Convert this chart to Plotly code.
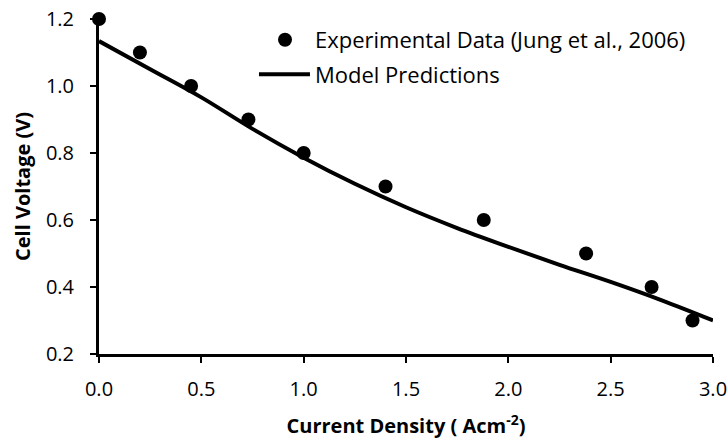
import plotly.graph_objects as go

# Experimental data (Jung et al., 2006)
exp_current = [0.0, 0.2, 0.45, 0.73, 1.0, 1.4, 1.88, 2.38, 2.7, 2.9]
exp_voltage = [1.2, 1.1, 1.0, 0.9, 0.8, 0.7, 0.6, 0.5, 0.4, 0.3]

# Model predictions
model_current = [0.0, 0.25, 0.5, 0.75, 1.0, 1.25, 1.5, 1.75, 2.0, 2.25, 2.5, 2.75, 3.0]
model_voltage = [1.134, 1.05, 0.966, 0.872, 0.786, 0.708, 0.638, 0.576, 0.52, 0.466, 0.415, 0.36, 0.30]

x_ticks = [0.0, 0.5, 1.0, 1.5, 2.0, 2.5, 3.0]
y_ticks = [0.2, 0.4, 0.6, 0.8, 1.0, 1.2]

FONT = "Open Sans"
FS = 20
LFS = 22

fig = go.Figure()
fig.add_trace(go.Scatter(
    x=exp_current, y=exp_voltage, mode="markers",
    name="Experimental Data (Jung et al., 2006)",
    marker=dict(color="black", size=14),
    legend="legend", showlegend=True, cliponaxis=False,
))
fig.add_trace(go.Scatter(
    x=model_current, y=model_voltage, mode="lines",
    name="Model Predictions",
    line=dict(color="black", width=4, shape="spline"),
    legend="legend2", showlegend=True, cliponaxis=False,
))

axis_common = dict(
    showline=True, linecolor="black", linewidth=3,
    ticks="outside", ticklen=6, tickwidth=2, tickcolor="black",
    showgrid=False, zeroline=False, automargin=False,
    tickfont=dict(family=FONT, size=FS, color="black"),
)

fig.update_layout(
    width=728, height=439,
    margin=dict(l=99, r=15, t=19, b=85),
    paper_bgcolor="white", plot_bgcolor="white",
    font=dict(family=FONT, color="black"),
    showlegend=True,
    xaxis=dict(
        range=[0, 3.0], tickvals=x_ticks, ticktext=[f"{v:.1f}" for v in x_ticks],
        title=dict(text="<b>Current Density ( Acm<sup>-2</sup>)</b>",
                   font=dict(family=FONT, size=FS), standoff=22),
        ticklabelstandoff=9,
        **axis_common,
    ),
    yaxis=dict(
        range=[0.2, 1.2], tickvals=y_ticks, ticktext=[f"{v:.1f}" for v in y_ticks],
        title=dict(text="<b>Cell Voltage (V)</b>",
                   font=dict(family=FONT, size=FS), standoff=10),
        ticklabelstandoff=12,
        **axis_common,
    ),
    legend=dict(
        x=0.2541, y=1.0, xanchor="left", yanchor="top",
        font=dict(family=FONT, size=LFS, color="black"),
        bgcolor="rgba(0,0,0,0)", itemwidth=50,
    ),
    legend2=dict(
        x=0.2524, y=0.897, xanchor="left", yanchor="top",
        font=dict(family=FONT, size=LFS, color="black"),
        bgcolor="rgba(0,0,0,0)", itemwidth=51,
    ),
)

fig.write_html("out.html")
